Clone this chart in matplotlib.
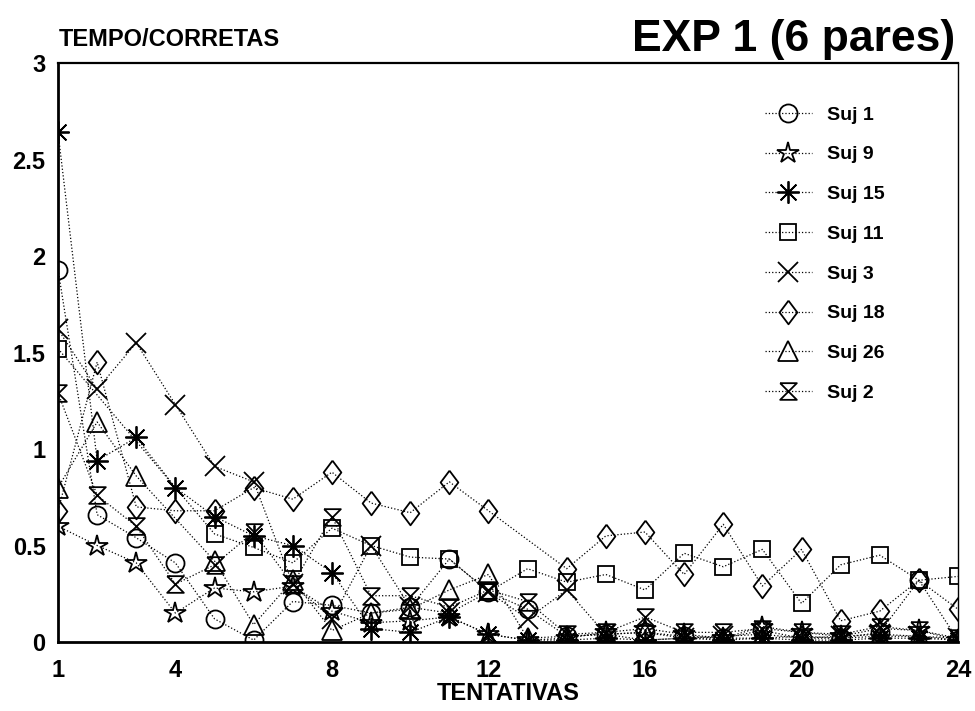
import numpy as np
import matplotlib
matplotlib.use('Agg')
import matplotlib.pyplot as plt

nan = np.nan

TRIALS = list(range(1, 25))
XTICKS = [1, 4, 8, 12, 16, 20, 24]
YTICKS = [0, 0.5, 1, 1.5, 2, 2.5, 3]
YTICK_LABELS = ['0', '0.5', '1', '1.5', '2', '2.5', '3']

suj1 = [1.93, 0.66, 0.54, 0.41, 0.12, 0.01, 0.21, 0.19, 0.15, 0.18, 0.43, 0.26,
        0.17, 0.03, 0.04, 0.05, 0.03, 0.02, 0.06, 0.02, 0.02, 0.05, 0.32, 0.01]
suj9 = [0.60, 0.50, 0.41, 0.15, 0.28, 0.26, 0.29, 0.16, 0.10, 0.11, 0.13, 0.04,
        0.01, 0.02, 0.05, 0.07, 0.04, 0.02, 0.08, 0.05, 0.03, 0.07, 0.06, 0.01]
suj15 = [2.64, 0.94, 1.06, 0.80, 0.65, 0.55, 0.50, 0.36, 0.07, 0.05, 0.13, 0.04,
         0.01, 0.01, 0.02, 0.01, 0.02, 0.01, 0.02, 0.01, 0.01, 0.02, 0.02, 0.01]
suj11 = [1.52, nan, nan, nan, 0.56, 0.49, 0.41, 0.59, 0.50, 0.44, 0.43, 0.26,
         0.38, 0.31, 0.35, 0.27, 0.46, 0.39, 0.48, 0.20, 0.40, 0.45, 0.32, 0.34]
suj3 = [1.62, 1.31, 1.55, 1.23, 0.91, 0.83, 0.30, 0.12, 0.50, 0.18, 0.15, 0.26,
        0.12, 0.27, 0.04, 0.01, 0.02, 0.03, 0.04, 0.02, 0.03, 0.04, 0.03, 0.02]
suj18 = [0.68, 1.45, 0.70, 0.68, 0.68, 0.80, 0.74, 0.88, 0.72, 0.67, 0.83, 0.68,
         nan, 0.38, 0.55, 0.57, 0.35, 0.61, 0.29, 0.48, 0.11, 0.16, 0.32, 0.17]
suj26 = [0.80, 1.14, 0.86, nan, 0.42, 0.09, 0.32, 0.06, 0.15, 0.17, 0.27, 0.35,
         0.02, 0.03, 0.04, 0.05, 0.02, 0.02, 0.02, 0.03, 0.02, 0.03, 0.03, 0.01]
suj2 = [1.29, 0.76, 0.60, 0.30, 0.40, 0.57, 0.30, 0.65, 0.24, 0.24, 0.18, 0.27,
        0.21, 0.04, 0.05, 0.13, 0.05, 0.05, 0.07, 0.05, 0.04, 0.08, 0.06, 0.02]

# custom marker shapes
hourglass = [(-1, 1), (1, 1), (-1, -1), (1, -1), (-1, 1)]
diamond = [(0, 1), (0.75, 0), (0, -1), (-0.75, 0), (0, 1)]

series = [
    ('Suj 1', suj1, 'o', 13),
    ('Suj 9', suj9, '*', 16),
    ('Suj 15', suj15, (8, 2, 0), 16),
    ('Suj 11', suj11, 's', 12),
    ('Suj 3', suj3, 'x', 14),
    ('Suj 18', suj18, diamond, 17),
    ('Suj 26', suj26, '^', 14),
    ('Suj 2', suj2, hourglass, 12),
]

plt.rcParams['font.family'] = ['Liberation Sans', 'DejaVu Sans']

fig = plt.figure(figsize=(9.75, 7.11), dpi=100)
ax = fig.add_axes([0.0595, 0.097, 0.9231, 0.8144])

x = np.array(TRIALS)
for name, vals, mk, ms in series:
    v = np.array(vals, dtype=float)
    ok = ~np.isnan(v)
    ax.plot(x[ok], v[ok], linestyle=':', linewidth=0.9, color='black',
            marker=mk, markersize=ms, markerfacecolor='none',
            markeredgecolor='black', markeredgewidth=1.3, label=name)

ax.set_xlim(1, 24)
ax.set_ylim(0, 3)
ax.set_xticks(XTICKS)
ax.set_yticks(YTICKS)
ax.set_yticklabels(YTICK_LABELS)
ax.tick_params(length=0, labelsize=17)
ax.tick_params(axis='x', pad=12)
ax.tick_params(axis='y', pad=9)
for lbl in ax.get_xticklabels() + ax.get_yticklabels():
    lbl.set_fontweight('bold')

ax.spines['left'].set_linewidth(2)
ax.spines['bottom'].set_linewidth(2)
ax.spines['top'].set_linewidth(1.6)
ax.spines['right'].set_linewidth(1)

ax.set_xlabel('TENTATIVAS', fontsize=17, fontweight='bold', labelpad=0)
fig.text(0.06, 0.945, 'TEMPO/CORRETAS', fontsize=17, fontweight='bold',
         ha='left', va='center')
fig.text(0.98, 0.945, 'EXP 1 (6 pares)', fontsize=32, fontweight='bold',
         ha='right', va='center')

leg = ax.legend(loc='upper left', bbox_to_anchor=(0.766, 0.956), frameon=False,
                handlelength=2.4, handletextpad=0.8, labelspacing=1.14,
                prop={'weight': 'bold', 'size': 14})

fig.savefig('out.png', dpi=100)
